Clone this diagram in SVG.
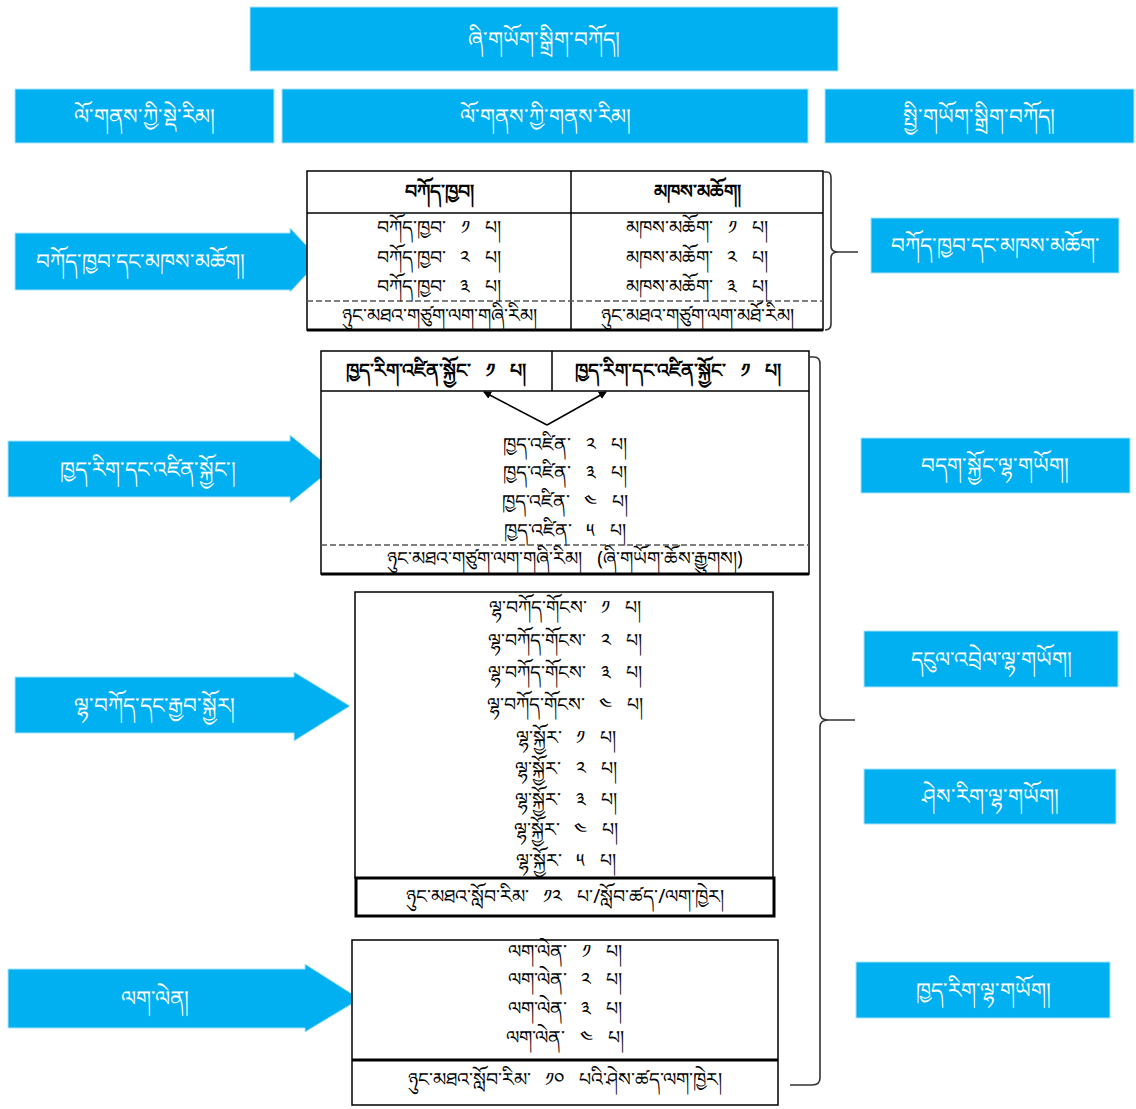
<svg xmlns="http://www.w3.org/2000/svg" width="1136" height="1109" viewBox="0 0 1136 1109">
<style>
.box{fill:#00B0F0;stroke:#a8e4f8;stroke-width:1}
.wt{fill:#ffffff;font-family:"Noto Sans","DejaVu Sans",sans-serif;font-size:21.5px;text-anchor:middle;dominant-baseline:central}
.bt{fill:#000000;font-family:"Noto Sans","DejaVu Sans",sans-serif;font-size:19px;text-anchor:middle;dominant-baseline:central;white-space:pre}
.hd{font-weight:bold}
.tb{fill:#ffffff;stroke:#000000;stroke-width:1.5}
.ln{fill:none;stroke:#000000;stroke-width:1.5}
.thk{fill:none;stroke:#000000;stroke-width:3}
.dot{fill:none;stroke:#555555;stroke-width:1.5;stroke-dasharray:6 3}
.br{fill:none;stroke:#333333;stroke-width:1.6}
</style>
<defs>
<marker id="ah" markerWidth="8" markerHeight="8" refX="7" refY="4" orient="auto" markerUnits="userSpaceOnUse">
<path d="M0,0 L8,4 L0,8 Z" fill="#000000"/>
</marker>
</defs>

<g id="title">
<rect class="box" x="250" y="7" width="588" height="64"/>
<text class="wt" x="544" y="38">ཞི་གཡོག་སྒྲིག་བཀོད།</text>
</g>

<g id="hdr-left">
<rect class="box" x="15" y="89" width="259" height="54"/>
<text class="wt" x="144" y="115">ལོ་གནས་ཀྱི་སྡེ་རིམ།</text>
</g>
<g id="hdr-mid">
<rect class="box" x="282" y="89" width="526" height="54"/>
<text class="wt" x="545" y="115">ལོ་གནས་ཀྱི་གནས་རིམ།</text>
</g>
<g id="hdr-right">
<rect class="box" x="825" y="89" width="309" height="54"/>
<text class="wt" x="979" y="115">སྤྱི་གཡོག་སྒྲིག་བཀོད།</text>
</g>

<g id="arrow-ex">
<polygon class="box" points="15,233 290,233 290,228 320,260 290,292 290,290 15,290"/>
<text class="wt" x="140" y="260">བཀོད་ཁྱབ་དང་མཁས་མཆོག།</text>
</g>
<g id="arrow-pm">
<polygon class="box" points="8,441 290,441 290,435 332,469 290,503 290,497 8,497"/>
<text class="wt" x="148" y="468">ཁྱད་རིག་དང་འཛིན་སྐྱོང་།</text>
</g>
<g id="arrow-ss">
<polygon class="box" points="15,677 294,677 294,672 350,706 294,741 294,733 15,733"/>
<text class="wt" x="154" y="704">ལྷ་བཀོད་དང་རྒྱབ་སྐྱོར།</text>
</g>
<g id="arrow-op">
<polygon class="box" points="8,969 305,969 305,964 360,999 305,1032 305,1028 8,1028"/>
<text class="wt" x="155" y="997">ལག་ལེན།</text>
</g>

<g id="table-ex">
<rect class="tb" x="307" y="171" width="516" height="159"/>
<line class="ln" x1="307" y1="213" x2="823" y2="213"/>
<line class="ln" x1="571" y1="171" x2="571" y2="330"/>
<line class="dot" x1="307" y1="301" x2="823" y2="301"/>
<line class="thk" x1="307" y1="330" x2="823" y2="330"/>
<text class="bt hd" x="439" y="191">བཀོད་ཁྱབ།</text>
<text class="bt hd" x="697" y="191">མཁས་མཆོག།</text>
<text class="bt" x="439" y="227">བཀོད་ཁྱབ་   ༡   པ།</text>
<text class="bt" x="439" y="257">བཀོད་ཁྱབ་   ༢   པ།</text>
<text class="bt" x="439" y="286">བཀོད་ཁྱབ་   ༣   པ།</text>
<text class="bt" x="697" y="227">མཁས་མཆོག་   ༡   པ།</text>
<text class="bt" x="697" y="257">མཁས་མཆོག་   ༢   པ།</text>
<text class="bt" x="697" y="286">མཁས་མཆོག་   ༣   པ།</text>
<text class="bt" x="439" y="315">ཉུང་མཐའ་གཙུག་ལག་གཞི་རིམ།</text>
<text class="bt" x="697" y="315">ཉུང་མཐའ་གཙུག་ལག་མཐོ་རིམ།</text>
</g>

<g id="table-pm">
<rect class="tb" x="321" y="351" width="488" height="223"/>
<line class="ln" x1="321" y1="391" x2="809" y2="391"/>
<line class="ln" x1="552" y1="351" x2="552" y2="391"/>
<line class="dot" x1="321" y1="545" x2="809" y2="545"/>
<line class="thk" x1="321" y1="574" x2="809" y2="574"/>
<text class="bt hd" x="436" y="370">ཁྱད་རིག་འཛིན་སྐྱོང་   ༡   པ།</text>
<text class="bt hd" x="678" y="370">ཁྱད་རིག་དང་འཛིན་སྐྱོང་   ༡   པ།</text>
<text class="bt" x="565" y="444">ཁྱད་འཛིན་   ༢   པ།</text>
<text class="bt" x="565" y="472">ཁྱད་འཛིན་   ༣   པ།</text>
<text class="bt" x="565" y="501">ཁྱད་འཛིན་   ༤   པ།</text>
<text class="bt" x="565" y="530">ཁྱད་འཛིན་   ༥   པ།</text>
<text class="bt" x="565" y="558">ཉུང་མཐའ་གཙུག་ལག་གཞི་རིམ།   (ཞི་གཡོག་ཆོས་རྒྱུགས།)</text>
</g>

<g id="table-ss">
<rect class="tb" x="355" y="592" width="418" height="286"/>
<rect class="thk" x="356" y="878" width="418" height="38"/>
<text class="bt" x="565" y="607">ལྷ་བཀོད་གོངས་   ༡   པ།</text>
<text class="bt" x="565" y="640">ལྷ་བཀོད་གོངས་   ༢   པ།</text>
<text class="bt" x="565" y="672">ལྷ་བཀོད་གོངས་   ༣   པ།</text>
<text class="bt" x="565" y="704">ལྷ་བཀོད་གོངས་   ༤   པ།</text>
<text class="bt" x="566" y="737">ལྷ་སྐྱོར་   ༡   པ།</text>
<text class="bt" x="566" y="768">ལྷ་སྐྱོར་   ༢   པ།</text>
<text class="bt" x="566" y="799">ལྷ་སྐྱོར་   ༣   པ།</text>
<text class="bt" x="566" y="829">ལྷ་སྐྱོར་   ༤   པ།</text>
<text class="bt" x="566" y="860">ལྷ་སྐྱོར་   ༥   པ།</text>
<text class="bt" x="565" y="896">ཉུང་མཐའ་སློབ་རིམ་   ༡༢   པ་/སློབ་ཚད་/ལག་ཁྱེར།</text>
</g>

<g id="table-op">
<rect class="tb" x="352" y="940" width="426" height="165"/>
<line class="thk" x1="352" y1="1060" x2="778" y2="1060"/>
<text class="bt" x="565" y="951">ལག་ལེན་   ༡   པ།</text>
<text class="bt" x="565" y="979">ལག་ལེན་   ༢   པ།</text>
<text class="bt" x="565" y="1008">ལག་ལེན་   ༣   པ།</text>
<text class="bt" x="565" y="1037">ལག་ལེན་   ༤   པ།</text>
<text class="bt" x="565" y="1079">ཉུང་མཐའ་སློབ་རིམ་   ༡༠   པའི་ཤེས་ཚད་ལག་ཁྱེར།</text>
</g>

<g id="cat-ex">
<rect class="box" x="871" y="218" width="248" height="55"/>
<text class="wt" x="995" y="244">བཀོད་ཁྱབ་དང་མཁས་མཆོག་</text>
</g>
<g id="cat-admin">
<rect class="box" x="861" y="438" width="269" height="55"/>
<text class="wt" x="995" y="464">བདག་སྐྱོང་ལྷ་གཡོག།</text>
</g>
<g id="cat-fin">
<rect class="box" x="864" y="631" width="254" height="56"/>
<text class="wt" x="991" y="658">དངུལ་འབྲེལ་ལྷ་གཡོག།</text>
</g>
<g id="cat-edu">
<rect class="box" x="864" y="769" width="252" height="55"/>
<text class="wt" x="990" y="795">ཤེས་རིག་ལྷ་གཡོག།</text>
</g>
<g id="cat-tech">
<rect class="box" x="856" y="962" width="254" height="56"/>
<text class="wt" x="983" y="989">ཁྱད་རིག་ལྷ་གཡོག།</text>
</g>

<g id="connectors">
<line class="ln" x1="547" y1="425" x2="484" y2="392" marker-end="url(#ah)"/>
<line class="ln" x1="547" y1="425" x2="606" y2="392" marker-end="url(#ah)"/>
<path class="br" d="M823,172 L827,172 Q831,172 831,178 L831,246 Q831,252 838,252 L858,252 M838,252 Q831,252 831,258 L831,324 Q831,330 825,330"/>
<path class="br" d="M809,357 L814,357 Q820,357 820,364 L820,713 Q820,720 828,720 L855,720 M828,720 Q820,720 820,727 L820,1078 Q820,1085 812,1085 L790,1085"/>
</g>
</svg>
